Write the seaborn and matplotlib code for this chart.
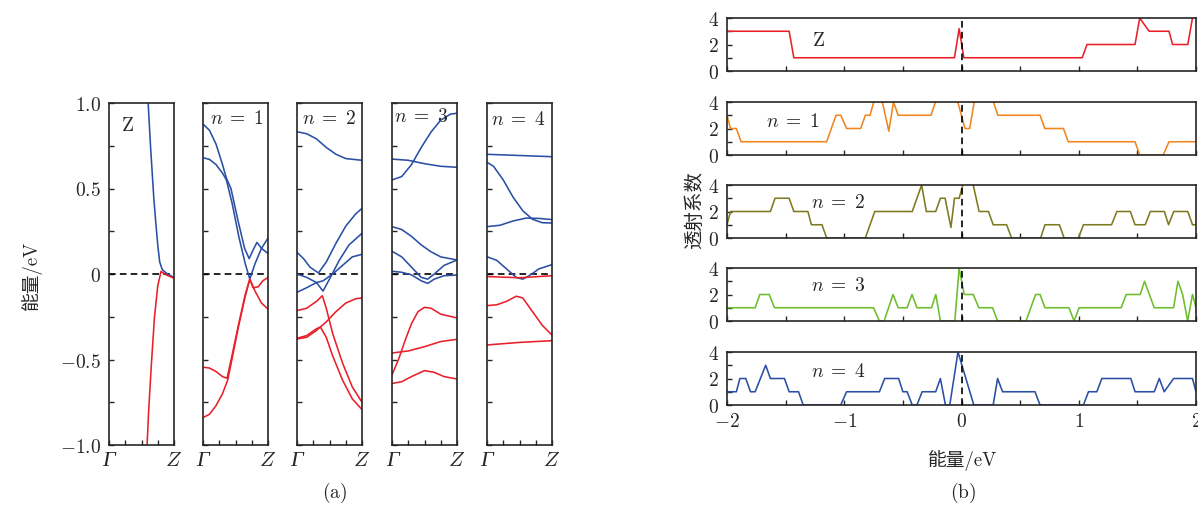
import matplotlib
matplotlib.use("Agg")
import matplotlib.pyplot as plt
import seaborn as sns
import pandas as pd

sns.set_style("ticks")
plt.rcParams["font.family"] = ["cmr10", "Noto Sans CJK SC"]
plt.rcParams["mathtext.fontset"] = "cm"
plt.rcParams["axes.unicode_minus"] = False

# ---- (a) band structures, k from Gamma (0) to Z (1), energy in eV ----
bands_z = {
    "c1": ([0.595, 0.64, 0.69, 0.72, 0.75, 0.78, 0.82, 0.9, 1.0],
           [1.05, 0.74, 0.44, 0.30, 0.17, 0.07, 0.025, 0.0, -0.02]),
    "v1": ([0.58, 0.61, 0.65, 0.70, 0.75, 0.80, 0.88, 1.0],
           [-1.05, -0.80, -0.54, -0.25, -0.07, 0.015, -0.005, -0.025]),
}
bands_n1 = {
    "c1": ([0, 0.1, 0.2, 0.3, 0.36, 0.43, 0.54, 0.64, 0.71, 0.77, 0.83, 0.9, 1.0],
           [0.877, 0.84, 0.76, 0.64, 0.56, 0.50, 0.31, 0.15, 0.09, 0.14, 0.185, 0.15, 0.12]),
    "c2": ([0, 0.1, 0.2, 0.3, 0.36, 0.45, 0.55, 0.65, 0.72, 0.8, 0.9, 1.0],
           [0.68, 0.67, 0.64, 0.59, 0.55, 0.41, 0.22, 0.06, -0.03, 0.06, 0.15, 0.21]),
    "v1": ([0, 0.1, 0.2, 0.3, 0.37, 0.45, 0.55, 0.65, 0.72, 0.8, 0.9, 1.0],
           [-0.545, -0.55, -0.57, -0.60, -0.61, -0.47, -0.29, -0.12, -0.03, -0.10, -0.17, -0.205]),
    "v2": ([0, 0.1, 0.2, 0.3, 0.38, 0.45, 0.55, 0.65, 0.72, 0.77, 0.85, 0.92, 1.0],
           [-0.84, -0.82, -0.77, -0.70, -0.62, -0.49, -0.30, -0.13, -0.03, -0.08, -0.075, -0.04, -0.02]),
}
bands_n2 = {
    "c1": ([0, 0.15, 0.3, 0.45, 0.6, 0.75, 1.0],
           [0.832, 0.82, 0.79, 0.74, 0.70, 0.675, 0.665]),
    "c2": ([0, 0.1, 0.2, 0.33, 0.45, 0.6, 0.75, 0.9, 1.0],
           [0.127, 0.09, 0.04, 0.006, 0.07, 0.18, 0.28, 0.35, 0.384]),
    "c3": ([0, 0.15, 0.3, 0.4, 0.5, 0.65, 0.8, 1.0],
           [0.0, -0.02, -0.05, -0.10, -0.03, 0.08, 0.17, 0.238]),
    "c4": ([0, 0.15, 0.3, 0.4, 0.55, 0.7, 0.85, 1.0],
           [-0.107, -0.08, -0.05, -0.04, 0.0, 0.05, 0.10, 0.115]),
    "v1": ([0, 0.15, 0.3, 0.39, 0.45, 0.55, 0.7, 0.85, 1.0],
           [-0.214, -0.20, -0.16, -0.127, -0.20, -0.35, -0.52, -0.66, -0.75]),
    "v2": ([0, 0.15, 0.3, 0.36, 0.45, 0.55, 0.7, 0.85, 1.0],
           [-0.376, -0.36, -0.32, -0.31, -0.37, -0.48, -0.62, -0.73, -0.793]),
    "v3": ([0, 0.15, 0.3, 0.45, 0.6, 0.75, 0.9, 1.0],
           [-0.38, -0.37, -0.33, -0.28, -0.22, -0.17, -0.145, -0.14]),
}
bands_n3 = {
    "c1": ([0, 0.15, 0.3, 0.45, 0.6, 0.75, 0.9, 1.0],
           [0.55, 0.57, 0.64, 0.74, 0.83, 0.90, 0.935, 0.94]),
    "c2": ([0, 0.25, 0.5, 0.75, 1.0],
           [0.672, 0.665, 0.645, 0.63, 0.624]),
    "c3": ([0, 0.15, 0.3, 0.45, 0.6, 0.75, 1.0],
           [0.277, 0.26, 0.22, 0.17, 0.13, 0.10, 0.082]),
    "c4": ([0, 0.15, 0.3, 0.45, 0.55, 0.65, 0.8, 1.0],
           [0.133, 0.10, 0.04, -0.02, -0.03, 0.0, 0.05, 0.082]),
    "c5": ([0, 0.15, 0.3, 0.45, 0.55, 0.65, 0.8, 1.0],
           [0.016, 0.01, -0.005, -0.04, -0.055, -0.03, -0.01, -0.006]),
    "v1": ([0, 0.1, 0.2, 0.3, 0.4, 0.5, 0.6, 0.75, 1.0],
           [-0.59, -0.50, -0.39, -0.29, -0.22, -0.195, -0.20, -0.235, -0.257]),
    "v2": ([0, 0.25, 0.5, 0.75, 1.0],
           [-0.462, -0.45, -0.425, -0.395, -0.382]),
    "v3": ([0, 0.15, 0.3, 0.5, 0.65, 0.8, 1.0],
           [-0.64, -0.63, -0.60, -0.565, -0.575, -0.60, -0.614]),
}
bands_n4 = {
    "c1": ([0, 0.5, 1.0], [0.70, 0.693, 0.686]),
    "c2": ([0, 0.1, 0.25, 0.4, 0.55, 0.7, 0.85, 1.0],
           [0.653, 0.63, 0.55, 0.45, 0.37, 0.32, 0.30, 0.298]),
    "c3": ([0, 0.2, 0.4, 0.6, 0.8, 1.0],
           [0.277, 0.285, 0.31, 0.327, 0.325, 0.318]),
    "c4": ([0, 0.15, 0.3, 0.45, 0.55, 0.65, 0.8, 1.0],
           [0.101, 0.08, 0.03, -0.02, -0.03, -0.01, 0.03, 0.055]),
    "v1": ([0, 0.5, 1.0], [-0.015, -0.022, -0.01]),
    "v2": ([0, 0.15, 0.3, 0.45, 0.55, 0.7, 0.85, 1.0],
           [-0.185, -0.18, -0.16, -0.13, -0.14, -0.22, -0.30, -0.357]),
    "v3": ([0, 0.5, 1.0], [-0.415, -0.40, -0.39]),
}
band_panels = [bands_z, bands_n1, bands_n2, bands_n3, bands_n4]
panel_labels = [r"$\mathrm{Z}$", r"$n\;=\;1$", r"$n\;=\;2$", r"$n\;=\;3$", r"$n\;=\;4$"]

# ---- (b) transmission coefficient vs energy ----
t_z_e = [-2.0, -1.47, -1.43, -0.06, -0.02, 0.02, 1.03, 1.07, 1.48, 1.52, 1.60, 1.77, 1.80, 1.93, 1.97, 2.0]
t_z_v = [3, 3, 1, 1, 3.2, 1, 1, 2, 2, 4, 3, 3, 2, 2, 4, 5]
t_n1_e = [-2.0, -1.97, -1.92, -1.88, -1.15, -1.07, -1.03, -0.98, -0.86, -0.82, -0.78, -0.73, -0.69,
          -0.62, -0.58, -0.54, -0.26, -0.20, -0.05, 0.03, 0.07, 0.12, 0.25, 0.31, 0.67, 0.71, 0.87,
          0.91, 1.48, 1.52, 1.72, 1.77, 2.0]
t_n1_v = [3, 2, 2, 1, 1, 3, 3, 2, 2, 3, 3, 4.6, 4.6, 1.8, 4, 3, 3, 4.6, 4.6, 2, 2, 4.6, 4.6, 3, 3,
          2, 2, 1, 1, 0, 0, 1, 1]
t_n2_e = [-2.0, -1.97, -1.63, -1.59, -1.47, -1.43, -1.31, -1.28, -1.19, -1.15, -0.82, -0.74, -0.42,
          -0.34, -0.30, -0.22, -0.18, -0.14, -0.09, -0.06, -0.02, 0.03, 0.085, 0.15, 0.23, 0.27,
          0.385, 0.427, 0.675, 0.712, 0.835, 0.875, 0.997, 1.04, 1.28, 1.325, 1.44, 1.48, 1.567,
          1.61, 1.73, 1.766, 1.81, 1.93, 1.97, 2.0]
t_n2_v = [1, 2, 2, 3, 3, 2, 2, 1, 1, 0, 0, 2, 2, 4, 2, 2, 3, 3, 0.8, 3, 3, 4.6, 4.6, 2, 2, 1, 1, 0,
          0, 1, 1, 0, 0, 1, 1, 2, 2, 1, 1, 2, 2, 1, 2, 2, 1, 1]
t_n3_e = [-2.0, -1.76, -1.72, -1.64, -1.595, -0.75, -0.70, -0.66, -0.584, -0.54, -0.464, -0.422,
          -0.38, -0.256, -0.219, -0.18, -0.057, -0.02, 0.023, 0.1, 0.148, 0.265, 0.308, 0.55,
          0.632, 0.67, 0.712, 0.917, 0.96, 1.003, 1.362, 1.405, 1.524, 1.561, 1.644, 1.809,
          1.846, 1.886, 1.929, 1.97, 2.0]
t_n3_v = [1, 1, 2, 2, 1, 1, 0, 0, 2, 1, 1, 2, 1, 1, 2, 0, 0, 4, 2, 2, 1, 1, 0, 0, 2, 2, 1, 1, 0, 1,
          1, 2, 2, 3, 1, 1, 3, 2, 0, 2, 1]
t_n4_e = [-2.0, -1.92, -1.89, -1.84, -1.80, -1.76, -1.67, -1.63, -1.51, -1.47, -1.39, -1.35, -1.03,
          -0.98, -0.70, -0.655, -0.536, -0.50, -0.464, -0.42, -0.38, -0.336, -0.22, -0.18, -0.137,
          -0.10, -0.03, 0.105, 0.27, 0.308, 0.35, 0.627, 0.67, 1.04, 1.083, 1.154, 1.197, 1.444,
          1.48, 1.644, 1.687, 1.729, 1.809, 1.97, 2.0]
t_n4_v = [1, 1, 2, 2, 1, 1, 3, 2, 2, 1, 1, 0, 0, 1, 1, 2, 2, 1, 1, 0, 0, 1, 1, 2, 0, 0, 4, 0, 0, 2,
          1, 1, 0, 0, 1, 1, 2, 2, 1, 1, 2, 1, 2, 2, 1]
trans = [(t_z_e, t_z_v), (t_n1_e, t_n1_v), (t_n2_e, t_n2_v), (t_n3_e, t_n3_v), (t_n4_e, t_n4_v)]
trans_colors = ["#e8202a", "#f0861e", "#7d7a22", "#6dbd2c", "#2a4fa4"]

BLUE, RED = "#2a4fa4", "#e8202a"
cjk = ["cmr10", "Noto Sans CJK SC"]

W, H = 1198, 506
fig = plt.figure(figsize=(W / 100, H / 100), dpi=100)


def px_axes(x0, y0, w, h):
    return fig.add_axes([x0 / W, 1 - (y0 + h) / H, w / W, h / H])


def style_axes(ax):
    for s in ax.spines.values():
        s.set_linewidth(1.2)
    ax.tick_params(which="both", direction="in", length=3.5, width=1,
                   top=False, right=False, labelsize=14, pad=5)


# ---- left: band panels ----
lefts = [109, 203, 297, 392, 487]
label_pos = [(0.29, 0.937), (0.52, 0.955), (0.49, 0.955), (0.45, 0.962), (0.48, 0.952)]
for i, (bands, x0) in enumerate(zip(band_panels, lefts)):
    ax = px_axes(x0, 104, 65, 342)
    for name, (k, e) in bands.items():
        df = pd.DataFrame({"k": k, "E": e})
        sns.lineplot(data=df, x="k", y="E", ax=ax, sort=False, estimator=None,
                     color=BLUE if name.startswith("c") else RED, lw=1.15)
    ax.axhline(0, color="black", ls=(0, (4, 2.5)), lw=1.2, zorder=1)
    ax.set_xlim(0, 1)
    ax.set_ylim(-1, 1)
    ax.set_xticks([0, 1], ["Γ", r"$Z$"])
    ax.set_xticks([0.25, 0.5, 0.75], minor=True)
    ax.set_yticks([-1, -0.5, 0, 0.5, 1])
    ax.set_yticks([-0.75, -0.25, 0.25, 0.75], minor=True)
    if i == 0:
        ax.set_yticklabels([r"$-1.0$", r"$-0.5$", r"$0$", r"$0.5$", r"$1.0$"])
    else:
        ax.set_yticklabels([])
    ax.set_xlabel("")
    ax.set_ylabel("")
    style_axes(ax)
    ax.tick_params(axis="y", pad=6)
    ax.tick_params(axis="x", labelsize=15, pad=4)
    gamma = ax.get_xticklabels()[0]
    gamma.set_fontfamily("Liberation Serif")
    gamma.set_fontstyle("italic")
    gamma.set_fontsize(16)
    ax.text(*label_pos[i], panel_labels[i], transform=ax.transAxes,
            ha="center", va="center", fontsize=14)

fig.text(31 / W, 1 - 275 / H, "能量/eV", rotation=90, ha="center", va="center",
         fontsize=13.5, family=cjk)
fig.text(335 / W, 1 - 493 / H, r"$\mathrm{(a)}$", ha="center", va="center", fontsize=14)

# ---- right: transmission panels ----
tops = [19, 103, 186, 269, 353]
tlabel_pos = [(0.194, 0.58), (0.14, 0.64), (0.237, 0.68), (0.237, 0.68), (0.237, 0.64)]
for i, ((e, v), top) in enumerate(zip(trans, tops)):
    ax = px_axes(727, top, 469, 53)
    df = pd.DataFrame({"E": e, "T": v})
    sns.lineplot(data=df, x="E", y="T", ax=ax, sort=False, estimator=None,
                 color=trans_colors[i], lw=1.15)
    ax.axvline(0, color="black", ls=(0, (4, 2.5)), lw=1.2, zorder=3)
    ax.set_xlim(-2, 2)
    ax.set_ylim(0, 4)
    ax.set_yticks([0, 2, 4], [r"$0$", r"$2$", r"$4$"])
    ax.set_yticks([1, 3], minor=True)
    ax.set_xticks([-2, -1, 0, 1, 2])
    ax.set_xticks([-1.5, -0.5, 0.5, 1.5], minor=True)
    if i == 4:
        ax.set_xticklabels([r"$-2$", r"$-1$", r"$0$", r"$1$", r"$2$"])
    else:
        ax.set_xticklabels([])
    ax.set_xlabel("")
    ax.set_ylabel("")
    style_axes(ax)
    ax.tick_params(axis="y", pad=6)
    ax.text(*tlabel_pos[i], panel_labels[i], transform=ax.transAxes,
            ha="center", va="center", fontsize=14)

fig.text(695 / W, 1 - 210 / H, "透射系数", rotation=90, ha="center", va="center",
         fontsize=14, family=cjk)
fig.text(963 / W, 1 - 461 / H, "能量/eV", ha="center", va="center", fontsize=13.5, family=cjk)
fig.text(963 / W, 1 - 493 / H, r"$\mathrm{(b)}$", ha="center", va="center", fontsize=14)

fig.savefig("out.png", dpi=100)
